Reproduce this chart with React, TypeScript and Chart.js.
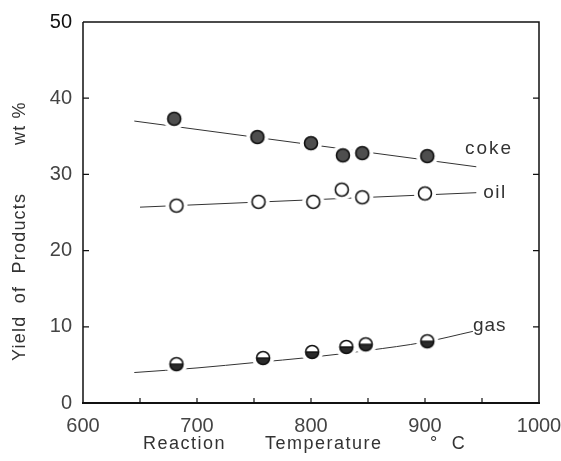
import React, { useEffect, useRef } from "react";
import { Chart, registerables } from "chart.js";

Chart.register(...registerables);

// ---- data ----
const COKE_T = [680, 753, 800, 828, 845, 902];
const COKE = [37.3, 34.9, 34.1, 32.5, 32.8, 32.4];
const OIL_T = [682, 754, 802, 827, 845, 900];
const OIL = [25.9, 26.4, 26.4, 28.0, 27.0, 27.5];
const GAS_T = [682, 758, 801, 831, 848, 902];
const GAS = [5.1, 5.9, 6.7, 7.35, 7.7, 8.1];

const COKE_FIT_T = [645, 945];
const COKE_FIT = [37.0, 31.0];
const OIL_FIT_T = [650, 945];
const OIL_FIT = [25.7, 27.6];
const GAS_FIT_T = [645, 700, 750, 800, 850, 900, 942];
const GAS_FIT = [4.0, 4.6, 5.3, 6.0, 6.9, 8.0, 9.4];

const SERIES_LABELS = ["coke", "oil", "gas"];
const SERIES_LABEL_T = [935, 951, 942];
const SERIES_LABEL_V = [32.7, 26.9, 9.45];

const X_MIN = 600, X_MAX = 1000, X_STEP = 100, X_MINOR = 50;
const Y_MIN = 0, Y_MAX = 50, Y_STEP = 10;

const X_TITLE = ["Reaction", "Temperature", "°  C"];
const Y_TITLE = ["Yield  of  Products", "wt %"];

const zip = (xs: number[], ys: number[]) => xs.map((x, i) => ({ x, y: ys[i] }));

function makeMarker(kind: "coke" | "oil" | "gas"): HTMLCanvasElement {
  const size = 24;
  const c = document.createElement("canvas");
  c.width = size;
  c.height = size;
  const ctx = c.getContext("2d")!;
  const cx = size / 2, cy = size / 2, r = 6.5;
  ctx.fillStyle = "#ffffff";
  ctx.beginPath();
  ctx.arc(cx, cy, 11, 0, Math.PI * 2);
  ctx.fill();
  if (kind === "coke") {
    ctx.fillStyle = "#4e4e4e";
    ctx.beginPath();
    ctx.arc(cx, cy, r, 0, Math.PI * 2);
    ctx.fill();
  } else if (kind === "gas") {
    ctx.fillStyle = "#2a2a2a";
    ctx.beginPath();
    ctx.arc(cx, cy, r, 0, Math.PI);
    ctx.closePath();
    ctx.fill();
  }
  ctx.strokeStyle = "#111";
  ctx.lineWidth = 1.6;
  ctx.beginPath();
  ctx.arc(cx, cy, r, 0, Math.PI * 2);
  ctx.stroke();
  if (kind === "gas") {
    ctx.lineWidth = 1.4;
    ctx.beginPath();
    ctx.moveTo(cx - r, cy);
    ctx.lineTo(cx + r, cy);
    ctx.stroke();
  }
  return c;
}

const framePlugin = {
  id: "frame",
  beforeDatasetsDraw(chart: any) {
    const { ctx, chartArea: a, scales } = chart;
    const xs = scales.x, ys = scales.y;
    ctx.save();
    ctx.strokeStyle = "#111";
    ctx.lineWidth = 1.5;
    ctx.beginPath();
    ctx.moveTo(a.left, a.top);
    ctx.lineTo(a.right, a.top);
    ctx.lineTo(a.right, a.bottom);
    ctx.moveTo(a.left, a.top);
    ctx.lineTo(a.left, a.bottom);
    ctx.stroke();
    ctx.lineWidth = 2;
    ctx.beginPath();
    ctx.moveTo(a.left - 1, a.bottom);
    ctx.lineTo(a.right + 1, a.bottom);
    ctx.stroke();
    ctx.lineWidth = 1.2;
    ctx.beginPath();
    for (let v = X_MIN + X_MINOR; v < X_MAX; v += X_MINOR) {
      const px = xs.getPixelForValue(v);
      ctx.moveTo(px, a.bottom);
      ctx.lineTo(px, a.bottom - 5);
    }
    for (let v = Y_MIN + Y_STEP; v < Y_MAX; v += Y_STEP) {
      const py = ys.getPixelForValue(v);
      ctx.moveTo(a.left, py);
      ctx.lineTo(a.left + 6, py);
      ctx.moveTo(a.right, py);
      ctx.lineTo(a.right - 6, py);
    }
    ctx.stroke();
    ctx.restore();
  },
  afterDraw(chart: any) {
    const { ctx, scales } = chart;
    const xs = scales.x, ys = scales.y;
    ctx.save();
    ctx.fillStyle = "#333";
    ctx.font = "19px 'Liberation Sans', sans-serif";
    ctx.textBaseline = "alphabetic";
    ctx.textAlign = "left";
    const spacing = ["2px", "1.5px", "1px"];
    SERIES_LABELS.forEach((t, i) => {
      (ctx as any).letterSpacing = spacing[i];
      ctx.fillText(t, xs.getPixelForValue(SERIES_LABEL_T[i]), ys.getPixelForValue(SERIES_LABEL_V[i]));
    });
    ctx.font = "18px 'Liberation Sans', sans-serif";
    (ctx as any).letterSpacing = "1.5px";
    const xPos = [143, 265, 430];
    X_TITLE.forEach((t, i) => ctx.fillText(t, xPos[i], 449));
    ctx.translate(25, 0);
    ctx.rotate(-Math.PI / 2);
    (ctx as any).letterSpacing = "1.2px";
    ctx.fillText(Y_TITLE[0], -361, 0);
    ctx.fillText(Y_TITLE[1], -145, 0);
    ctx.restore();
  },
};

export default function App() {
  const ref = useRef<HTMLCanvasElement | null>(null);
  useEffect(() => {
    if (!ref.current) return;
    const cokeM = makeMarker("coke");
    const oilM = makeMarker("oil");
    const gasM = makeMarker("gas");
    const fitStyle = {
      type: "line" as const,
      borderColor: "#333",
      borderWidth: 1,
      pointRadius: 0,
      fill: false,
      order: 2,
    };
    const ptStyle = (img: HTMLCanvasElement) => ({
      type: "scatter" as const,
      pointStyle: img,
      pointRadius: 7,
      showLine: false,
      order: 0,
    });
    const chart = new Chart(ref.current, {
      type: "scatter",
      data: {
        datasets: [
          { ...ptStyle(cokeM), label: "coke", data: zip(COKE_T, COKE) },
          { ...ptStyle(oilM), label: "oil", data: zip(OIL_T, OIL) },
          { ...ptStyle(gasM), label: "gas", data: zip(GAS_T, GAS) },
          { ...fitStyle, label: "coke fit", data: zip(COKE_FIT_T, COKE_FIT), tension: 0 },
          { ...fitStyle, label: "oil fit", data: zip(OIL_FIT_T, OIL_FIT), tension: 0 },
          { ...fitStyle, label: "gas fit", data: zip(GAS_FIT_T, GAS_FIT), cubicInterpolationMode: "monotone" },
        ] as any,
      },
      options: {
        animation: false,
        responsive: false,
        layout: { padding: { top: 22, right: 22, left: 0, bottom: 0 } },
        plugins: { legend: { display: false }, tooltip: { enabled: false } },
        scales: {
          x: {
            type: "linear",
            min: X_MIN,
            max: X_MAX,
            grid: { display: false, drawTicks: false },
            border: { display: false },
            ticks: {
              stepSize: X_STEP,
              padding: 11,
              color: "#444",
              font: { family: "'Liberation Sans', sans-serif", size: 20 },
              callback: (v: any) => String(v),
            },
            afterFit: (s: any) => { s.height = 58; s.paddingRight = 0; s.paddingLeft = 0; },
          },
          y: {
            type: "linear",
            min: Y_MIN,
            max: Y_MAX,
            grid: { display: false, drawTicks: false },
            border: { display: false },
            ticks: {
              stepSize: Y_STEP,
              padding: 11,
              color: (c: any) => (c.tick && c.tick.value === 50 ? "#111" : "#444"),
              font: { family: "'Liberation Sans', sans-serif", size: 20 },
              callback: (v: any) => String(v),
            },
            afterFit: (s: any) => { s.width = 83; s.paddingTop = 0; s.paddingBottom = 0; },
          },
        },
      },
      plugins: [framePlugin],
    });
    return () => chart.destroy();
  }, []);
  return (
    <div style={{ position: "fixed", left: 0, top: 0, width: 561, height: 461, background: "#fff" }}>
      <canvas ref={ref} width={561} height={461} style={{ display: "block" }} />
    </div>
  );
}
